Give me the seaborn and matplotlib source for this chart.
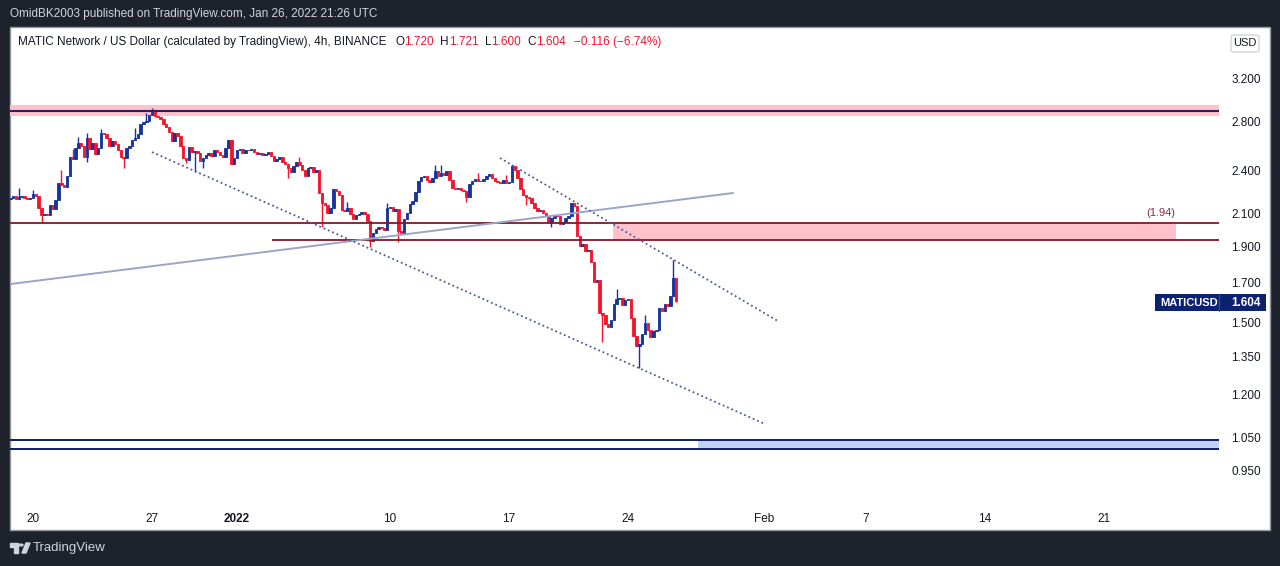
import numpy as np
import pandas as pd
import matplotlib
matplotlib.use('Agg')
import matplotlib.pyplot as plt
import seaborn as sns
from matplotlib.patches import Rectangle, FancyBboxPatch, Polygon, Circle
from matplotlib.ticker import NullLocator, FixedLocator

# MATICUSD 4h candles, first one Dec 18 16:00 UTC, last one Jan 26 20:00 UTC
first_open = 2.200
closes = [
    2.207, 2.220, 2.200, 2.213, 2.220, 2.207, 2.200, 2.207, 2.234, 2.220,
    2.139, 2.093, 2.099, 2.093, 2.159, 2.132, 2.193, 2.311, 2.297, 2.283,
    2.362, 2.505, 2.490, 2.576, 2.616, 2.592, 2.505, 2.657, 2.568, 2.616,
    2.529, 2.576, 2.699, 2.690, 2.657, 2.592, 2.633, 2.608, 2.560, 2.505,
    2.498, 2.576, 2.592, 2.641, 2.657, 2.690, 2.775, 2.792, 2.801, 2.853,
    2.880, 2.844, 2.836, 2.819, 2.775, 2.749, 2.707, 2.633, 2.699, 2.674,
    2.592, 2.498, 2.482, 2.584, 2.544, 2.552, 2.537, 2.474, 2.498, 2.521,
    2.537, 2.513, 2.560, 2.544, 2.521, 2.505, 2.576, 2.641, 2.452, 2.498,
    2.560, 2.568, 2.537, 2.560, 2.560, 2.568, 2.544, 2.529, 2.537, 2.521,
    2.529, 2.544, 2.513, 2.474, 2.490, 2.505, 2.467, 2.452, 2.421, 2.391,
    2.436, 2.467, 2.444, 2.406, 2.362, 2.421, 2.429, 2.391, 2.406, 2.241,
    2.173, 2.159, 2.106, 2.139, 2.269, 2.255, 2.227, 2.126, 2.119, 2.139,
    2.099, 2.067, 2.093, 2.099, 2.113, 2.099, 2.055, 1.931, 1.980, 2.004,
    2.017, 2.011, 1.998, 2.139, 2.146, 2.119, 2.132, 1.992, 1.980, 2.067,
    2.106, 2.166, 2.186, 2.248, 2.326, 2.355, 2.362, 2.333, 2.319, 2.347,
    2.398, 2.362, 2.384, 2.369, 2.398, 2.333, 2.276, 2.269, 2.276, 2.262,
    2.255, 2.213, 2.304, 2.326, 2.340, 2.326, 2.326, 2.340, 2.362, 2.377,
    2.347, 2.326, 2.319, 2.311, 2.333, 2.311, 2.319, 2.436, 2.406, 2.347,
    2.269, 2.227, 2.213, 2.207, 2.173, 2.139, 2.119, 2.126, 2.106, 2.086,
    2.048, 2.074, 2.093, 2.086, 2.036, 2.048, 2.074, 2.086, 2.173, 2.152,
    1.962, 1.902, 1.914, 1.872, 1.878, 1.810, 1.701, 1.712, 1.546, 1.536,
    1.494, 1.480, 1.512, 1.589, 1.614, 1.619, 1.584, 1.609, 1.614, 1.521,
    1.439, 1.395, 1.404, 1.448, 1.498, 1.466, 1.434, 1.461, 1.466, 1.570,
    1.555, 1.589, 1.579, 1.629, 1.720, 1.604,
]
# visible wicks (candle index -> price)
wick_hi_idx = [3, 8, 18, 22, 24, 27, 32, 44, 48, 50, 102, 119, 133, 150, 152,
               165, 175, 177, 214, 224, 234, 235]
wick_hi_val = [2.276, 2.262, 2.406, 2.568, 2.666, 2.699, 2.733, 2.741, 2.871, 2.915,
               2.505, 2.180, 2.173, 2.444, 2.444, 2.384, 2.369, 2.444, 1.664, 1.536,
               1.821, 1.721]
wick_lo_idx = [11, 27, 40, 62, 65, 68, 98, 110, 127, 137, 161, 182, 191, 209, 222, 235]
wick_lo_val = [2.042, 2.467, 2.421, 2.459, 2.391, 2.421, 2.348, 2.017, 1.896, 1.926,
               2.180, 2.159, 2.017, 1.412, 1.305, 1.600]

# drawings (x in days from Dec 20)
price_ticks = [0.95, 1.05, 1.2, 1.35, 1.5, 1.7, 1.9, 2.1, 2.4, 2.8, 3.2]
date_ticks = [0, 7, 12, 21, 28, 35, 43, 49, 56, 63]
date_labels = ['20', '27', '2022', '10', '17', '24', 'Feb', '7', '14', '21']
top_zone = [2.849, 2.939]
top_line = 2.892
res_line = 2.040
res_line2 = 1.937
res_zone_x = [34.12, 67.24]
res_line2_x0 = 14.06
sup_lines = [1.0416, 1.013]
sup_zone_x0 = 39.12
rising_line = ([-1.353, 41.18], [1.690, 2.241])
channel_low = ([7.0, 43.06], [2.544, 1.0956])
channel_high = ([27.47, 43.82], [2.4976, 1.5073])

BG = '#1e222d'
BLUE = '#15349c'
RED = '#f5132d'
MAROON = '#84162a'
NAVY = '#0d1f66'
PINK = '#ffc1cb'

sns.set_style('white')
plt.rcParams['font.family'] = ['Liberation Sans', 'DejaVu Sans']

W, H = 1280, 566
def fx(px):
    return px / W
def fy(py):
    return 1 - py / H

fig = plt.figure(figsize=(12.8, 5.66), dpi=100, facecolor=BG)
fig.patches.append(Rectangle((fx(10), fy(530)), fx(1260), (530 - 27) / H,
                             transform=fig.transFigure, facecolor='white',
                             edgecolor='#9598a1', lw=1, zorder=-5))

ax = fig.add_axes([fx(10), fy(500), fx(1209), (500 - 27) / H])
ax.patch.set_alpha(0)
for s in ax.spines.values():
    s.set_visible(False)

df = pd.DataFrame({'close': closes})
df['t'] = np.arange(len(df)) / 6 - 4 / 3
df['open'] = [first_open] + closes[:-1]
df['body_lo'] = df[['open', 'close']].min(axis=1)
df['body_hi'] = df[['open', 'close']].max(axis=1)
df['high'] = df['body_hi']
df['low'] = df['body_lo']
df.loc[wick_hi_idx, 'high'] = wick_hi_val
df.loc[wick_lo_idx, 'low'] = wick_lo_val
colors = np.where(df['close'] >= df['open'], BLUE, RED)

xmax = 69.765
# zones
ax.axhspan(top_zone[0], top_zone[1], color=PINK, lw=0, zorder=1)
ax.fill_between(res_zone_x, res_line2, res_line, color=PINK, lw=0, zorder=1)
ax.fill_between([sup_zone_x0, xmax], sup_lines[1], sup_lines[0], color='#c3d1f2', lw=0, zorder=1)

# candles
ax.vlines(df['t'], df['low'], df['high'], colors=colors, lw=1.0, zorder=3)
ax.bar(df['t'], df['body_hi'] - df['body_lo'], bottom=df['body_lo'],
       width=0.14, color=colors, edgecolor=colors, linewidth=0.6, zorder=3)

# horizontal lines
ax.axhline(top_line, color='#2b1f5e', lw=1.5, zorder=4)
ax.axhline(res_line, color=MAROON, lw=1.3, zorder=4)
ax.hlines(res_line2, res_line2_x0, xmax, color=MAROON, lw=1.3, zorder=4)
for p in sup_lines:
    ax.axhline(p, color=NAVY, lw=1.4, zorder=4)

# trend lines
sns.lineplot(x=rising_line[0], y=rising_line[1], ax=ax, color='#9aa6c9', lw=1.4, zorder=4)
for xs, ys in (channel_low, channel_high):
    sns.lineplot(x=xs, y=ys, ax=ax, color='#4b5b9c', lw=1.3,
                 linestyle=(0, (1, 1.6)), zorder=4)

ax.set_yscale('log')
ax.set_xlim(-1.353, xmax)
ax.set_ylim(0.8658, 3.748)
ax.yaxis.set_major_locator(FixedLocator(price_ticks))
ax.yaxis.set_minor_locator(NullLocator())
ax.set_yticklabels([f'{p:.3f}' for p in price_ticks])
ax.yaxis.tick_right()
ax.tick_params(axis='y', length=0, pad=9, labelsize=8.5, labelcolor='#131722')
ax.set_xticks(date_ticks)
ax.set_xticklabels(date_labels)
ax.tick_params(axis='x', length=0, pad=9, labelsize=8.5, labelcolor='#131722')
ax.get_xticklabels()[2].set_fontweight('bold')
ax.set_xlabel('')
ax.set_ylabel('')
ax.grid(False)

# header and legend
fig.text(fx(10), fy(14), 'OmidBK2003 published on TradingView.com, Jan 26, 2022 21:26 UTC',
         color='#d1d4dc', fontsize=8.5, va='center')
prev = fig.text(fx(18), fy(42), 'MATIC Network / US Dollar (calculated by TradingView), 4h, BINANCE',
                color='#131722', fontsize=8.5, va='center')
parts = [('O', '#131722', 6.5), ('1.720', RED, 0), ('H', '#131722', 4.5), ('1.721', RED, 0),
         ('L', '#131722', 4.5), ('1.600', RED, 0), ('C', '#131722', 4.5), ('1.604', RED, 0),
         ('\u22120.116 (\u22126.74%)', RED, 6)]
for txt, col, gap in parts:
    prev = ax.annotate(txt, xy=(1, 0.5), xycoords=prev, xytext=(gap, 0),
                       textcoords='offset points', va='center', ha='left',
                       color=col, fontsize=8.5, annotation_clip=False)

# USD box
fig.patches.append(FancyBboxPatch((fx(1231), fy(52)), fx(28), 17 / H,
                                  boxstyle='round,pad=0,rounding_size=0.003',
                                  transform=fig.transFigure, facecolor='white',
                                  edgecolor='#c8cad0', lw=0.8, zorder=5))
fig.text(fx(1245), fy(43.5), 'USD', color='#131722', fontsize=8, ha='center', va='center', zorder=6)

# (1.94) label
fig.text(fx(1160.5), fy(213), '(1.94)', color='#8c2a3c', fontsize=8, ha='center', va='center')

# last price label
fig.patches.append(Rectangle((fx(1155), fy(311)), fx(111), 17 / H, transform=fig.transFigure,
                             facecolor='#0c2170', edgecolor='none', zorder=5))
fig.lines.append(plt.Line2D([fx(1219), fx(1219)], [fy(311), fy(294)], transform=fig.transFigure,
                            color='#3a4c8a', lw=0.8, zorder=6))
fig.text(fx(1160), fy(302.5), 'MATICUSD', color='white', fontsize=8, fontweight='bold',
         va='center', zorder=7)
fig.text(fx(1231), fy(302.5), '1.604', color='white', fontsize=8.5, fontweight='bold',
         va='center', zorder=7)

# TradingView logo
logo_col = '#d1d4dc'
fig.patches.append(Polygon([(fx(10), fy(543)), (fx(18), fy(543)), (fx(18), fy(553)), (fx(14), fy(553)),
                            (fx(14), fy(547)), (fx(10), fy(547))], closed=True,
                           transform=fig.transFigure, color=logo_col))
fig.patches.append(Circle((fx(21), fy(545)), 2 / W, transform=fig.transFigure, color=logo_col))
fig.patches.append(Polygon([(fx(22), fy(553)), (fx(26), fy(543)), (fx(30), fy(543)), (fx(26), fy(553))],
                           closed=True, transform=fig.transFigure, color=logo_col))
fig.text(fx(33), fy(548), 'TradingView', color=logo_col, fontsize=9.5, va='center')

fig.savefig('out.png', dpi=100, facecolor=BG)
